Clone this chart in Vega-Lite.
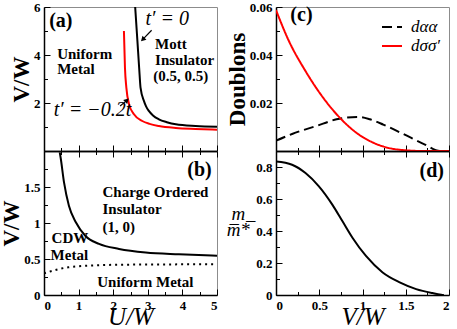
{
  "$schema": "https://vega.github.io/schema/vega-lite/v6.json",
  "padding": {"left": 0, "top": 0, "right": 0, "bottom": 0},
  "config": {
    "font": "Liberation Serif",
    "view": {"stroke": "#8c8c8c", "strokeWidth": 1},
    "axis": {"grid": false, "domainColor": "#000000", "domainWidth": 1.5, "tickColor": "#000000", "tickWidth": 1, "labelFont": "Liberation Serif", "labelFontWeight": "bold", "labelFontSize": 13, "labelColor": "#000000", "titleFont": "Liberation Serif", "titleFontWeight": "bold", "titleFontSize": 23, "titleColor": "#000000", "labelPadding": 10, "titlePadding": 0},
    "legend": {"orient": "top-right", "offset": 9, "title": null, "symbolType": "stroke", "symbolStrokeWidth": 2, "symbolSize": 400, "labelFont": "Liberation Serif", "labelFontStyle": "italic", "labelFontSize": 17, "labelColor": "#000000", "labelOffset": 8, "rowPadding": 0, "padding": 0}
  },
  "datasets": {
    "lineA": [
      {"series": "t0", "U": 2.635, "V": 6.0},
      {"series": "t0", "U": 2.70, "V": 4.58},
      {"series": "t0", "U": 2.75, "V": 3.47},
      {"series": "t0", "U": 2.79, "V": 2.64},
      {"series": "t0", "U": 2.89, "V": 2.08},
      {"series": "t0", "U": 2.95, "V": 1.86},
      {"series": "t0", "U": 3.03, "V": 1.67},
      {"series": "t0", "U": 3.15, "V": 1.48},
      {"series": "t0", "U": 3.32, "V": 1.32},
      {"series": "t0", "U": 3.55, "V": 1.2},
      {"series": "t0", "U": 3.81, "V": 1.11},
      {"series": "t0", "U": 4.38, "V": 1.04},
      {"series": "t0", "U": 5.0, "V": 1.01},
      {"series": "t02", "U": 2.31, "V": 5.0},
      {"series": "t02", "U": 2.34, "V": 3.47},
      {"series": "t02", "U": 2.38, "V": 2.64},
      {"series": "t02", "U": 2.46, "V": 1.94},
      {"series": "t02", "U": 2.60, "V": 1.53},
      {"series": "t02", "U": 2.84, "V": 1.25},
      {"series": "t02", "U": 3.05, "V": 1.13},
      {"series": "t02", "U": 3.32, "V": 1.04},
      {"series": "t02", "U": 3.81, "V": 0.96},
      {"series": "t02", "U": 4.38, "V": 0.92},
      {"series": "t02", "U": 5.0, "V": 0.89}
    ],
    "annA": [
      {"kind": "panel", "label": "(a)", "U": 0.15, "V": 5.42},
      {"kind": "region", "label": "Uniform", "U": 0.38, "V": 4.04},
      {"kind": "region", "label": "Metal", "U": 0.38, "V": 3.4},
      {"kind": "region", "label": "Mott", "U": 3.21, "V": 4.44},
      {"kind": "region", "label": "Insulator", "U": 3.21, "V": 3.78},
      {"kind": "region", "label": "(0.5, 0.5)", "U": 3.16, "V": 3.13},
      {"kind": "math", "label": "t′ = 0", "U": 3.56, "V": 5.49},
      {"kind": "math", "label": "t′ = −0.2t", "U": 1.40, "V": 1.69}
    ],
    "arrowsA": [
      {"arrow": "t0", "U": 3.11, "V": 5.03, "U2": 2.87, "V2": 4.67},
      {"arrow": "t02", "U": 2.20, "V": 1.875, "U2": 2.38, "V2": 2.09}
    ],
    "lineB": [
      {"series": "co", "U": 0.455, "V": 1.98},
      {"series": "co", "U": 0.48, "V": 1.91},
      {"series": "co", "U": 0.58, "V": 1.56},
      {"series": "co", "U": 0.72, "V": 1.24},
      {"series": "co", "U": 0.92, "V": 1.01},
      {"series": "co", "U": 1.2, "V": 0.82},
      {"series": "co", "U": 1.59, "V": 0.71},
      {"series": "co", "U": 2.17, "V": 0.64},
      {"series": "co", "U": 2.94, "V": 0.59},
      {"series": "co", "U": 3.9, "V": 0.565},
      {"series": "co", "U": 5.0, "V": 0.545}
    ],
    "dotB": [
      {"series": "uniform", "U": 0.0, "V": 0.30},
      {"series": "uniform", "U": 0.2, "V": 0.33},
      {"series": "uniform", "U": 0.43, "V": 0.36},
      {"series": "uniform", "U": 0.7, "V": 0.385},
      {"series": "uniform", "U": 1.01, "V": 0.40},
      {"series": "uniform", "U": 1.4, "V": 0.41},
      {"series": "uniform", "U": 1.78, "V": 0.417},
      {"series": "uniform", "U": 2.5, "V": 0.422},
      {"series": "uniform", "U": 3.5, "V": 0.425},
      {"series": "uniform", "U": 5.0, "V": 0.426}
    ],
    "annB": [
      {"kind": "panel", "label": "(b)", "U": 4.14, "V": 1.73},
      {"kind": "region", "label": "Charge Ordered", "U": 1.69, "V": 1.43},
      {"kind": "region", "label": "Insulator", "U": 1.69, "V": 1.19},
      {"kind": "region", "label": "(1, 0)", "U": 1.69, "V": 0.95},
      {"kind": "region", "label": "CDW", "U": 0.22, "V": 0.79},
      {"kind": "region", "label": "Metal", "U": 0.19, "V": 0.55},
      {"kind": "region", "label": "Uniform Metal", "U": 1.54, "V": 0.185}
    ],
    "lineC": [
      {"series": "dαα", "V": 0.0, "d": 0.0043},
      {"series": "dαα", "V": 0.186, "d": 0.0071},
      {"series": "dαα", "V": 0.465, "d": 0.0104},
      {"series": "dαα", "V": 0.70, "d": 0.0132},
      {"series": "dαα", "V": 0.81, "d": 0.0139},
      {"series": "dαα", "V": 0.95, "d": 0.0142},
      {"series": "dαα", "V": 1.085, "d": 0.0132},
      {"series": "dαα", "V": 1.24, "d": 0.011},
      {"series": "dαα", "V": 1.47, "d": 0.0071},
      {"series": "dαα", "V": 1.71, "d": 0.0029},
      {"series": "dαα", "V": 1.9, "d": 0.0},
      {"series": "dαα", "V": 2.0, "d": 0.0},
      {"series": "dσσ′", "V": 0.0, "d": 0.0587},
      {"series": "dσσ′", "V": 0.147, "d": 0.046},
      {"series": "dσσ′", "V": 0.341, "d": 0.0333},
      {"series": "dσσ′", "V": 0.535, "d": 0.0227},
      {"series": "dσσ′", "V": 0.729, "d": 0.0142},
      {"series": "dσσ′", "V": 0.922, "d": 0.0078},
      {"series": "dσσ′", "V": 1.116, "d": 0.0036},
      {"series": "dσσ′", "V": 1.31, "d": 0.0012},
      {"series": "dσσ′", "V": 1.5, "d": 0.0003},
      {"series": "dσσ′", "V": 1.7, "d": 0.0},
      {"series": "dσσ′", "V": 2.0, "d": 0.0}
    ],
    "annC": [
      {"kind": "panel", "label": "(c)", "V": 0.166, "d": 0.0566}
    ],
    "lineD": [
      {"series": "mass", "V": 0.0, "m": 0.834},
      {"series": "mass", "V": 0.186, "m": 0.814},
      {"series": "mass", "V": 0.341, "m": 0.762},
      {"series": "mass", "V": 0.496, "m": 0.679},
      {"series": "mass", "V": 0.651, "m": 0.565},
      {"series": "mass", "V": 0.767, "m": 0.462},
      {"series": "mass", "V": 0.884, "m": 0.358},
      {"series": "mass", "V": 1.04, "m": 0.244},
      {"series": "mass", "V": 1.233, "m": 0.141},
      {"series": "mass", "V": 1.43, "m": 0.079},
      {"series": "mass", "V": 1.62, "m": 0.037},
      {"series": "mass", "V": 1.81, "m": 0.012},
      {"series": "mass", "V": 1.91, "m": 0.002},
      {"series": "mass", "V": 1.94, "m": 0.0}
    ],
    "annD": [
      {"kind": "panel", "label": "(d)", "V": 1.66, "m": 0.772}
    ]
  },
  "hconcat": [
    {
      "vconcat": [
        {
          "width": 173, "height": 144,
          "encoding": {
            "x": {"field": "U", "type": "quantitative", "scale": {"domain": [0, 5]}, "axis": {"values": [0, 0.5, 1, 1.5, 2, 2.5, 3, 3.5, 4, 4.5, 5], "labels": false, "title": null, "tickSize": {"condition": {"test": "datum.value % 1 == 0", "value": -6}, "value": -3.5}}},
            "y": {"field": "V", "type": "quantitative", "scale": {"domain": [0, 6]}, "axis": {"values": [0, 1, 2, 3, 4, 5, 6], "labelExpr": "datum.value > 0 && datum.value % 2 == 0 ? datum.label : ''", "title": "V/W", "tickSize": {"condition": {"test": "datum.value % 2 == 0", "value": -6}, "value": -3.5}}}
          },
          "layer": [
            {"data": {"name": "lineA"}, "transform": [{"filter": "datum.series == 't0'"}], "mark": {"type": "line", "color": "#000000", "strokeWidth": 2, "interpolate": "monotone", "clip": true}},
            {"data": {"name": "lineA"}, "transform": [{"filter": "datum.series == 't02'"}], "mark": {"type": "line", "color": "#ff0000", "strokeWidth": 2, "interpolate": "monotone", "clip": true}},
            {"data": {"name": "arrowsA"}, "transform": [{"filter": "datum.arrow == 't0'"}], "mark": {"type": "rule", "color": "#000000", "strokeWidth": 1.2}, "encoding": {"x2": {"field": "U2"}, "y2": {"field": "V2"}}},
            {"data": {"name": "arrowsA"}, "transform": [{"filter": "datum.arrow == 't02'"}], "mark": {"type": "rule", "color": "#000000", "strokeWidth": 1.2}, "encoding": {"x2": {"field": "U2"}, "y2": {"field": "V2"}}},
            {"data": {"name": "arrowsA"}, "transform": [{"filter": "datum.arrow == 't0'"}], "mark": {"type": "point", "shape": "triangle", "filled": true, "color": "#000000", "size": 32, "angle": 225, "opacity": 1}, "encoding": {"x": {"field": "U2", "type": "quantitative"}, "y": {"field": "V2", "type": "quantitative"}}},
            {"data": {"name": "arrowsA"}, "transform": [{"filter": "datum.arrow == 't02'"}], "mark": {"type": "point", "shape": "triangle", "filled": true, "color": "#000000", "size": 32, "angle": 45, "opacity": 1}, "encoding": {"x": {"field": "U2", "type": "quantitative"}, "y": {"field": "V2", "type": "quantitative"}}},
            {"data": {"name": "annA"}, "transform": [{"filter": "datum.kind == 'panel'"}], "mark": {"type": "text", "align": "left", "baseline": "middle", "fontWeight": "bold", "fontSize": 20, "font": "Liberation Serif", "color": "#000000"}, "encoding": {"text": {"field": "label"}}},
            {"data": {"name": "annA"}, "transform": [{"filter": "datum.kind == 'region'"}], "mark": {"type": "text", "align": "left", "baseline": "middle", "fontWeight": "bold", "fontSize": 15, "font": "Liberation Serif", "color": "#000000"}, "encoding": {"text": {"field": "label"}}},
            {"data": {"name": "annA"}, "transform": [{"filter": "datum.kind == 'math'"}], "mark": {"type": "text", "align": "center", "baseline": "middle", "fontStyle": "italic", "fontSize": 20, "font": "Liberation Serif", "color": "#000000"}, "encoding": {"text": {"field": "label"}}}
          ]
        },
        {
          "width": 173, "height": 144,
          "encoding": {
            "x": {"field": "U", "type": "quantitative", "scale": {"domain": [0, 5]}, "axis": null},
            "y": {"field": "V", "type": "quantitative", "scale": {"domain": [0, 2]}, "axis": {"values": [0, 0.25, 0.5, 0.75, 1, 1.25, 1.5, 1.75, 2], "labelExpr": "datum.value % 0.5 == 0 && datum.value < 1.9 ? format(datum.value, '~g') : ''", "title": "V/W", "tickSize": {"condition": {"test": "datum.value % 0.5 == 0", "value": -6}, "value": -3.5}}}
          },
          "layer": [
            {"data": {"name": "lineB"}, "mark": {"type": "line", "color": "#000000", "strokeWidth": 2, "interpolate": "monotone", "clip": true},
             "encoding": {"x": {"field": "U", "type": "quantitative", "scale": {"domain": [0, 5]}, "axis": {"values": [0, 0.5, 1, 1.5, 2, 2.5, 3, 3.5, 4, 4.5, 5], "labelExpr": "datum.value % 1 == 0 ? format(datum.value, '~g') : ''", "title": "U/W", "titleFontStyle": "italic", "titleFontWeight": "normal", "titleFontSize": 25, "titlePadding": -8, "tickSize": {"condition": {"test": "datum.value % 1 == 0", "value": -6}, "value": -3.5}}}}},
            {"data": {"name": "dotB"}, "mark": {"type": "line", "color": "#000000", "strokeWidth": 2, "strokeDash": [2, 4], "interpolate": "monotone", "clip": true},
             "encoding": {"x": {"field": "U", "type": "quantitative", "scale": {"domain": [0, 5]}, "axis": {"orient": "top", "values": [0, 0.5, 1, 1.5, 2, 2.5, 3, 3.5, 4, 4.5, 5], "labels": false, "title": null, "tickSize": {"condition": {"test": "datum.value % 1 == 0", "value": -6}, "value": -3.5}}}}},
            {"data": {"name": "annB"}, "transform": [{"filter": "datum.kind == 'panel'"}], "mark": {"type": "text", "align": "left", "baseline": "middle", "fontWeight": "bold", "fontSize": 20, "font": "Liberation Serif", "color": "#000000"}, "encoding": {"text": {"field": "label"}}},
            {"data": {"name": "annB"}, "transform": [{"filter": "datum.kind == 'region'"}], "mark": {"type": "text", "align": "left", "baseline": "middle", "fontWeight": "bold", "fontSize": 15, "font": "Liberation Serif", "color": "#000000"}, "encoding": {"text": {"field": "label"}}}
          ],
          "resolve": {"scale": {"x": "independent"}, "axis": {"x": "independent"}}
        }
      ],
      "spacing": 0,
      "bounds": "flush"
    },
    {
      "vconcat": [
        {
          "width": 173, "height": 144,
          "encoding": {
            "x": {"field": "V", "type": "quantitative", "scale": {"domain": [0, 2]}, "axis": {"values": [0, 0.25, 0.5, 0.75, 1, 1.25, 1.5, 1.75, 2], "labels": false, "title": null, "tickSize": {"condition": {"test": "datum.value % 0.5 == 0", "value": -6}, "value": -3.5}}},
            "y": {"field": "d", "type": "quantitative", "scale": {"domain": [0, 0.06]}, "axis": {"values": [0, 0.01, 0.02, 0.03, 0.04, 0.05, 0.06], "labelExpr": "datum.value > 0.001 && abs(datum.value * 50 - round(datum.value * 50)) < 0.000001 ? format(datum.value, '.2f') : ''", "title": "Doublons", "tickSize": {"condition": {"test": "abs(datum.value * 50 - round(datum.value * 50)) < 0.000001", "value": -6}, "value": -3.5}}}
          },
          "layer": [
            {"data": {"name": "lineC"}, "mark": {"type": "line", "strokeWidth": 2, "interpolate": "monotone", "clip": true},
             "encoding": {
               "color": {"field": "series", "type": "nominal", "scale": {"domain": ["dαα", "dσσ′"], "range": ["#000000", "#ff0000"]}},
               "strokeDash": {"field": "series", "type": "nominal", "scale": {"domain": ["dαα", "dσσ′"], "range": [[10, 5], [1, 0]]}}
             }},
            {"data": {"name": "annC"}, "mark": {"type": "text", "align": "left", "baseline": "middle", "fontWeight": "bold", "fontSize": 20, "font": "Liberation Serif", "color": "#000000"}, "encoding": {"text": {"field": "label"}}}
          ]
        },
        {
          "width": 173, "height": 144,
          "encoding": {
            "x": {"field": "V", "type": "quantitative", "scale": {"domain": [0, 2]}, "axis": null},
            "y": {"field": "m", "type": "quantitative", "scale": {"domain": [0, 0.9]}, "axis": {"values": [0, 0.1, 0.2, 0.3, 0.4, 0.5, 0.6, 0.7, 0.8, 0.9], "labelExpr": "abs(datum.value * 5 - round(datum.value * 5)) < 0.000001 && datum.value < 0.85 ? (datum.value == 0 ? '0' : format(datum.value, '.1f')) : ''", "title": ["m", "m̅*̅"], "titleAngle": 0, "titleFontStyle": "italic", "titleFontWeight": "normal", "titleFontSize": 19, "titleLineHeight": 16, "titlePadding": 2, "tickSize": {"condition": {"test": "abs(datum.value * 5 - round(datum.value * 5)) < 0.000001", "value": -6}, "value": -3.5}}}
          },
          "layer": [
            {"data": {"name": "lineD"}, "mark": {"type": "line", "color": "#000000", "strokeWidth": 2, "interpolate": "monotone", "clip": true},
             "encoding": {"x": {"field": "V", "type": "quantitative", "scale": {"domain": [0, 2]}, "axis": {"values": [0, 0.25, 0.5, 0.75, 1, 1.25, 1.5, 1.75, 2], "labelExpr": "datum.value % 0.5 == 0 ? format(datum.value, '~g') : ''", "title": "V/W", "titleFontStyle": "italic", "titleFontWeight": "normal", "titleFontSize": 25, "titlePadding": -8, "tickSize": {"condition": {"test": "datum.value % 0.5 == 0", "value": -6}, "value": -3.5}}}}},
            {"data": {"name": "annD"}, "mark": {"type": "text", "align": "left", "baseline": "middle", "fontWeight": "bold", "fontSize": 20, "font": "Liberation Serif", "color": "#000000"},
             "encoding": {"text": {"field": "label"}, "x": {"field": "V", "type": "quantitative", "scale": {"domain": [0, 2]}, "axis": {"orient": "top", "values": [0, 0.25, 0.5, 0.75, 1, 1.25, 1.5, 1.75, 2], "labels": false, "title": null, "tickSize": {"condition": {"test": "datum.value % 0.5 == 0", "value": -6}, "value": -3.5}}}}}
          ],
          "resolve": {"scale": {"x": "independent"}, "axis": {"x": "independent"}}
        }
      ],
      "spacing": 0,
      "bounds": "flush",
      "resolve": {"scale": {"color": "independent", "strokeDash": "independent"}, "legend": {"color": "independent", "strokeDash": "independent"}}
    }
  ],
  "spacing": 7,
  "resolve": {"scale": {"color": "independent", "strokeDash": "independent"}, "legend": {"color": "independent", "strokeDash": "independent"}}
}
